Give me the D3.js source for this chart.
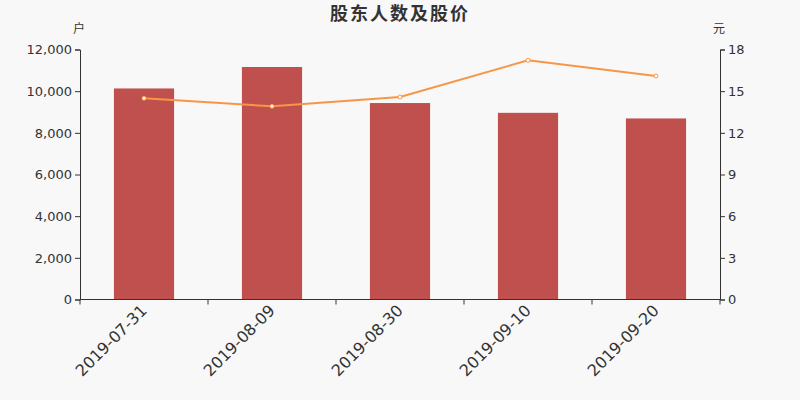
<!DOCTYPE html>
<html lang="zh">
<head>
    <meta charset="UTF-8">
    <title>股东人数及股价</title>
    <script src="https://d3js.org/d3.v7.min.js"></script>
    <style>
        body { margin: 0; background: #f8f8f8; }
        #chart svg { display: block; }
        .axis text { font: 13px "DejaVu Sans", sans-serif; fill: #333; }
        .axis path, .axis line { stroke: #333; }
    </style>
</head>
<body>
    <div id="chart"></div>
    <script>
        // data
        var dates = ["2019-07-31", "2019-08-09", "2019-08-30", "2019-09-10", "2019-09-20"];
        var holders = [10130, 11160, 9430, 8960, 8690];
        var prices = [14.49, 13.91, 14.58, 17.22, 16.09];
        var leftTicks = [0, 2000, 4000, 6000, 8000, 10000, 12000];
        var rightTicks = [0, 3, 6, 9, 12, 15, 18];

        var width = 800, height = 400;
        var margin = {top: 49.5, right: 80, bottom: 100.5, left: 80};

        var svg = d3.select("#chart").append("svg")
            .attr("width", width)
            .attr("height", height);

        svg.append("rect")
            .attr("width", width).attr("height", height)
            .attr("fill", "#f8f8f8");

        var x = d3.scaleBand()
            .domain(dates)
            .range([margin.left, width - margin.right])
            .paddingInner(0.53)
            .paddingOuter(0.265);

        // band boundaries for the tick marks
        var xb = d3.scaleBand().domain(dates).range([margin.left, width - margin.right]);

        var yL = d3.scaleLinear().domain([0, 12000]).range([height - margin.bottom, margin.top]);
        var yR = d3.scaleLinear().domain([0, 18]).range([height - margin.bottom, margin.top]);

        // title
        svg.append("text")
            .attr("x", width / 2).attr("y", 20)
            .attr("text-anchor", "middle")
            .style("font", "bold 18px 'Noto Sans CJK SC', sans-serif")
            .style("letter-spacing", "2px")
            .style("fill", "#333")
            .text("股东人数及股价");

        // unit labels
        svg.append("text")
            .attr("x", 79).attr("y", 33)
            .attr("text-anchor", "middle")
            .style("font", "12px 'Noto Sans CJK SC', sans-serif")
            .style("fill", "#333")
            .text("户");
        svg.append("text")
            .attr("x", 719).attr("y", 33)
            .attr("text-anchor", "middle")
            .style("font", "12px 'Noto Sans CJK SC', sans-serif")
            .style("fill", "#333")
            .text("元");

        // bars
        svg.selectAll(".bar")
            .data(dates)
            .join("rect")
            .attr("class", "bar")
            .attr("x", d => x(d))
            .attr("width", x.bandwidth())
            .attr("y", (d, i) => yL(holders[i]))
            .attr("height", (d, i) => yL(0) - yL(holders[i]))
            .attr("fill", "#c0504d");

        // axes
        svg.append("g")
            .attr("class", "axis")
            .attr("transform", "translate(" + margin.left + ",0)")
            .call(d3.axisLeft(yL).tickValues(leftTicks).tickFormat(d3.format(",")).tickSizeOuter(0).tickSize(5));

        svg.append("g")
            .attr("class", "axis")
            .attr("transform", "translate(" + (width - margin.right) + ",0)")
            .call(d3.axisRight(yR).tickValues(rightTicks).tickSizeOuter(0).tickSize(5));

        var xAxis = svg.append("g")
            .attr("class", "axis")
            .attr("transform", "translate(0," + (height - margin.bottom) + ")");
        xAxis.append("line")
            .attr("x1", margin.left).attr("x2", width - margin.right)
            .attr("stroke", "#333");
        var bounds = dates.map(d => xb(d)).concat([width - margin.right]);
        xAxis.selectAll(".xt")
            .data(bounds)
            .join("line")
            .attr("class", "xt")
            .attr("x1", d => d).attr("x2", d => d)
            .attr("y1", 0).attr("y2", 5)
            .attr("stroke", "#333");
        xAxis.selectAll(".xl")
            .data(dates)
            .join("text")
            .attr("class", "xl")
            .attr("text-anchor", "end")
            .attr("transform", d => "translate(" + (xb(d) + xb.bandwidth() / 2 + 4) + ",12) rotate(-45)")
            .style("font-size", "16px")
            .text(d => d);

        // price line
        var line = d3.line()
            .x(d => x(d[0]) + x.bandwidth() / 2)
            .y(d => yR(d[1]));
        var pts = dates.map((d, i) => [d, prices[i]]);

        svg.append("path")
            .datum(pts)
            .attr("d", line)
            .attr("fill", "none")
            .attr("stroke", "#f79646")
            .attr("stroke-width", 2);

        svg.selectAll(".pt")
            .data(pts)
            .join("circle")
            .attr("class", "pt")
            .attr("cx", d => x(d[0]) + x.bandwidth() / 2)
            .attr("cy", d => yR(d[1]))
            .attr("r", 2)
            .attr("fill", "#fff")
            .attr("stroke", "#f79646")
            .attr("stroke-width", 1);
    </script>
</body>
</html>
